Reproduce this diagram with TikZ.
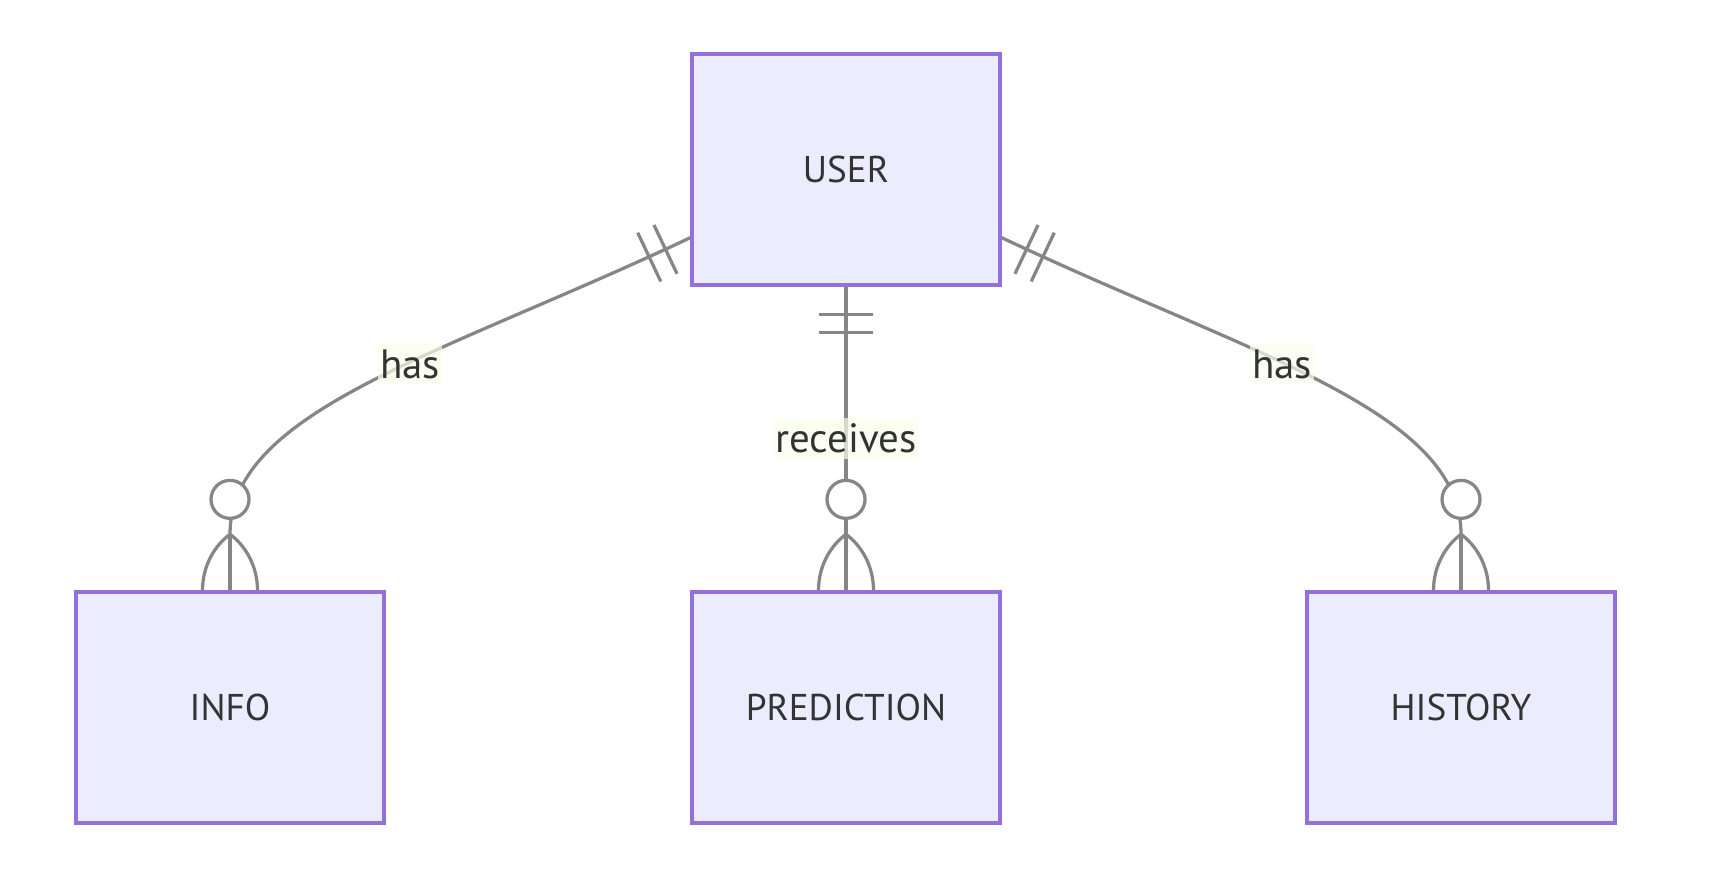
\documentclass[tikz,border=0pt]{standalone}
\usepackage{xcolor}
\usepackage{fontspec}
\setsansfont{PT Sans}
\usepackage{tikz}
\usetikzlibrary{calc}
\definecolor{entityfill}{HTML}{ECECFF}
\definecolor{entityborder}{HTML}{9370DB}
\definecolor{linegray}{HTML}{868686}
\definecolor{labelbg}{HTML}{F9FFEC}
\definecolor{dark}{HTML}{333333}
\tikzset{
    entity/.style={
        rectangle, draw=entityborder, fill=entityfill,
        minimum width=6.16cm, minimum height=4.62cm,
        font=\sffamily\fontsize{21.2}{26}\selectfont, text=dark,
        line width=1.9pt, inner sep=0pt
    },
    erline/.style={
        draw=linegray, line width=1.85pt
    },
    rellabel/.style={
        fill=labelbg, fill opacity=0.7, text opacity=1,
        font=\sffamily\fontsize{23.3}{28}\selectfont, text=dark,
        inner xsep=1pt, inner ysep=0pt, minimum height=0.82cm
    },
}

\begin{document}
\begin{tikzpicture}[x=0.02cm, y=-0.02cm]
    \useasboundingbox (0,0) rectangle (1730,875);

    % Entities
    \node[entity] (user) at (846,169.5) {USER};
    \node[entity] (info) at (230,707.5) {INFO};
    \node[entity] (prediction) at (846,707.5) {PREDICTION};
    \node[entity] (history) at (1461,707.5) {HISTORY};

    % Attachment points and curve handles
    \coordinate (userl) at ($(user.south west)+(0,-49)$);
    \coordinate (userr) at ($(user.south east)+(0,-49)$);
    \coordinate (cl) at (442,355);
    \coordinate (cr) at (1250,355);
    \coordinate (cm) at (prediction.north);
    \coordinate (infofork) at ($(info.north)+(0,-56)$);
    \coordinate (historyfork) at ($(history.north)+(0,-56)$);

    % Relationships
    \draw[erline] (userl) .. controls (cl) and (230,410) .. (infofork);
    \draw[erline] (user.south) -- (prediction.north);
    \draw[erline] (userr) .. controls (cr) and (1461,410) .. (historyfork);

    % Exactly-one ends at USER
    \foreach \a/\b in {userl/cl, userr/cr, user.south/cm} {
        \foreach \d in {0.55cm, 0.91cm} {
            \path ($(\a)!\d!(\b)$) coordinate (tk);
            \draw[erline] ($(tk)!0.54cm!90:(\b)$) -- ($(tk)!0.54cm!-90:(\b)$);
        }
    }

    % Zero-or-more ends
    \foreach \n in {info, prediction, history} {
        \draw[erline, fill=white] ($(\n.north)+(0,-91)$) circle[radius=0.38cm];
        \draw[erline] ($(\n.north)+(-27.5,0)$) .. controls ($(\n.north)+(-27.5,-26)$) and ($(\n.north)+(-14,-46)$) .. ($(\n.north)+(0,-56)$)
            .. controls ($(\n.north)+(14,-46)$) and ($(\n.north)+(27.5,-26)$) .. ($(\n.north)+(27.5,0)$);
        \draw[erline] ($(\n.north)+(0,-56)$) -- (\n.north);
    }

    % Labels
    \node[rellabel] (lhas) at (410,364) {has};
    \node[rellabel] (lrec) at (846,438) {receives};
    \node[rellabel] (rhas) at (1282,364) {has};

\end{tikzpicture}
\end{document}
